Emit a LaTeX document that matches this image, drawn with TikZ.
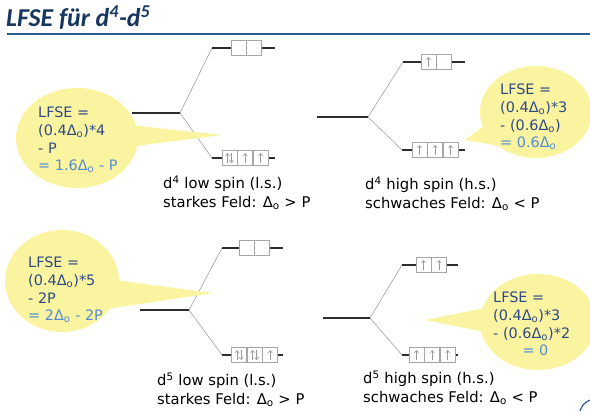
\documentclass[tikz,border=0pt]{standalone}
\usepackage{fontspec}
\setmainfont{DejaVu Sans}
\newfontfamily\titlefont{Carlito}
\usetikzlibrary{arrows.meta,positioning,calc}
\definecolor{lfnavy}{RGB}{23,55,94}
\definecolor{lfrule}{RGB}{44,92,140}
\definecolor{lftext}{RGB}{46,74,134}
\definecolor{lflight}{RGB}{84,140,210}
\definecolor{lfyellow}{RGB}{250,243,160}
\definecolor{lflevel}{RGB}{45,45,45}
\newcommand{\dOct}{Δ\textsubscript{o}}
\newcommand{\spinup}[1]{\draw[spin] ($(#1.center)+(0,5)$) -- ($(#1.center)+(0,-5)$);}
\newcommand{\spinpair}[1]{%
  \draw[spin] ($(#1.center)+(-2,5)$) -- ($(#1.center)+(-2,-5)$);
  \draw[spin] ($(#1.center)+(2,-5)$) -- ($(#1.center)+(2,5)$);}
\tikzset{
  orblevel/.style={draw=lflevel, line width=1.3pt},
  splitline/.style={draw=gray!75, line width=0.5pt},
  cell/.style={draw=gray!70, fill=white, line width=0.5pt, minimum width=0.45cm, minimum height=0.45cm, inner sep=0pt},
  spin/.style={draw=gray!80, line width=0.5pt, -{Straight Barb[length=2pt,width=3.5pt]}},
  bubble/.style={fill=lfyellow},
  calltext/.style={font=\fontsize{12.3}{15}\selectfont, text=lftext, align=left, anchor=west, inner sep=0pt},
  spinlabel/.style={font=\fontsize{12.6}{16}\selectfont, align=left, anchor=west, inner sep=0pt},
}
\begin{document}
\begin{tikzpicture}[x=0.03cm, y=-0.03cm]
  \useasboundingbox (0,0) rectangle (590,411);

  % title
  \node[font=\titlefont\fontsize{22}{26}\selectfont\bfseries\itshape, text=lfnavy, anchor=base west, inner sep=0pt] (title) at (6,26) {LFSE für d\textsuperscript{4}-d\textsuperscript{5}};
  \coordinate (rulea) at (7,34);
  \coordinate (ruleb) at (590,34);
  \draw[lfrule, line width=1.6pt] (rulea) -- (ruleb);

  % d4 low spin
  \coordinate (m1a) at (132,113);
  \coordinate (b1) at (180,113);
  \coordinate (u1a) at (212,48);
  \coordinate (u1b) at (275,48);
  \coordinate (d1a) at (212,158);
  \coordinate (d1b) at (275,158);
  \draw[orblevel] (m1a) -- (b1);
  \draw[splitline] (b1) -- (u1a);
  \draw[splitline] (b1) -- (d1a);
  \draw[orblevel] (u1a) -- (u1b);
  \draw[orblevel] (d1a) -- (d1b);
  \node[cell] (u1c1) at (238.5,48) {};
  \node[cell, right=0pt of u1c1] (u1c2) {};
  \node[cell] (d1c1) at (229.5,158) {};
  \node[cell, right=0pt of d1c1] (d1c2) {};
  \node[cell, right=0pt of d1c2] (d1c3) {};
  \spinpair{d1c1} \spinup{d1c2} \spinup{d1c3}
  \node[spinlabel] (cap1) at (163,193) {d\textsuperscript{4} low spin (l.s.)\\starkes Feld: \dOct{} > P};

  % bubble d4 low spin
  \coordinate (t1) at (222,135);
  \fill[bubble] (77,138) ellipse [x radius=61, y radius=50];
  \fill[bubble] (120,124) -- (t1) -- (120,148) -- cycle;
  \node[calltext] (lf1) at (38,140) {LFSE =\\(0.4\dOct)*4\\- P\\\textcolor{lflight}{= 1.6\dOct{} - P}};

  % d4 high spin
  \coordinate (m2a) at (317,117);
  \coordinate (b2) at (368,117);
  \coordinate (u2a) at (403,62);
  \coordinate (u2b) at (465,62);
  \coordinate (d2a) at (402,150);
  \coordinate (d2b) at (465,150);
  \draw[orblevel] (m2a) -- (b2);
  \draw[splitline] (b2) -- (u2a);
  \draw[splitline] (b2) -- (d2a);
  \draw[orblevel] (u2a) -- (u2b);
  \draw[orblevel] (d2a) -- (d2b);
  \node[cell] (u2c1) at (428.5,62) {};
  \node[cell, right=0pt of u2c1] (u2c2) {};
  \node[cell] (d2c1) at (419.5,150) {};
  \node[cell, right=0pt of d2c1] (d2c2) {};
  \node[cell, right=0pt of d2c2] (d2c3) {};
  \spinup{u2c1}
  \spinup{d2c1} \spinup{d2c2} \spinup{d2c3}
  \node[spinlabel] (cap2) at (365,194) {d\textsuperscript{4} high spin (h.s.)\\schwaches Feld: \dOct{} < P};

  % bubble d4 high spin
  \coordinate (t2) at (465,140);
  \fill[bubble] (536,112) ellipse [x radius=56, y radius=46];
  \fill[bubble] (500,114) -- (t2) -- (500,146) -- cycle;
  \node[calltext] (lf2) at (500,117) {LFSE =\\(0.4\dOct)*3\\- (0.6\dOct)\\\textcolor{lflight}{= 0.6\dOct}};

  % d5 low spin
  \coordinate (m3a) at (140,310);
  \coordinate (b3) at (189,310);
  \coordinate (u3a) at (222,248);
  \coordinate (u3b) at (283,248);
  \coordinate (d3a) at (222,355);
  \coordinate (d3b) at (283,355);
  \draw[orblevel] (m3a) -- (b3);
  \draw[splitline] (b3) -- (u3a);
  \draw[splitline] (b3) -- (d3a);
  \draw[orblevel] (u3a) -- (u3b);
  \draw[orblevel] (d3a) -- (d3b);
  \node[cell] (u3c1) at (246.5,248) {};
  \node[cell, right=0pt of u3c1] (u3c2) {};
  \node[cell] (d3c1) at (239,355) {};
  \node[cell, right=0pt of d3c1] (d3c2) {};
  \node[cell, right=0pt of d3c2] (d3c3) {};
  \spinpair{d3c1} \spinpair{d3c2} \spinup{d3c3}
  \node[spinlabel] (cap3) at (157,390) {d\textsuperscript{5} low spin (l.s.)\\starkes Feld: \dOct{} > P};

  % bubble d5 low spin
  \coordinate (t3) at (213,293);
  \fill[bubble] (62,281) ellipse [x radius=57, y radius=51];
  \fill[bubble] (100,278) -- (t3) -- (100,310) -- cycle;
  \node[calltext] (lf3) at (28,290) {LFSE =\\(0.4\dOct)*5\\- 2P\\\textcolor{lflight}{= 2\dOct{} - 2P}};

  % d5 high spin
  \coordinate (m4a) at (323,318);
  \coordinate (b4) at (370,318);
  \coordinate (u4a) at (402,265);
  \coordinate (u4b) at (458,265);
  \coordinate (d4a) at (402,355);
  \coordinate (d4b) at (458,355);
  \draw[orblevel] (m4a) -- (b4);
  \draw[splitline] (b4) -- (u4a);
  \draw[splitline] (b4) -- (d4a);
  \draw[orblevel] (u4a) -- (u4b);
  \draw[orblevel] (d4a) -- (d4b);
  \node[cell] (u4c1) at (423.5,265) {};
  \node[cell, right=0pt of u4c1] (u4c2) {};
  \node[cell] (d4c1) at (416.5,355) {};
  \node[cell, right=0pt of d4c1] (d4c2) {};
  \node[cell, right=0pt of d4c2] (d4c3) {};
  \spinup{u4c1} \spinup{u4c2}
  \spinup{d4c1} \spinup{d4c2} \spinup{d4c3}
  \node[spinlabel] (cap4) at (363,388) {d\textsuperscript{5} high spin (h.s.)\\schwaches Feld: \dOct{} < P};

  % bubble d5 high spin
  \coordinate (t4) at (425,320);
  \fill[bubble] (538,322) ellipse [x radius=58, y radius=48];
  \fill[bubble] (500,305) -- (t4) -- (500,335) -- cycle;
  \node[calltext] (lf4) at (493,324) {LFSE =\\(0.4\dOct)*3\\- (0.6\dOct)*2\\\hspace*{25pt}\textcolor{lflight}{= 0}};

  % corner swoosh
  \draw[lfrule, line width=1pt] (580,411) .. controls (583,404) .. (590,400);
\end{tikzpicture}
\end{document}
